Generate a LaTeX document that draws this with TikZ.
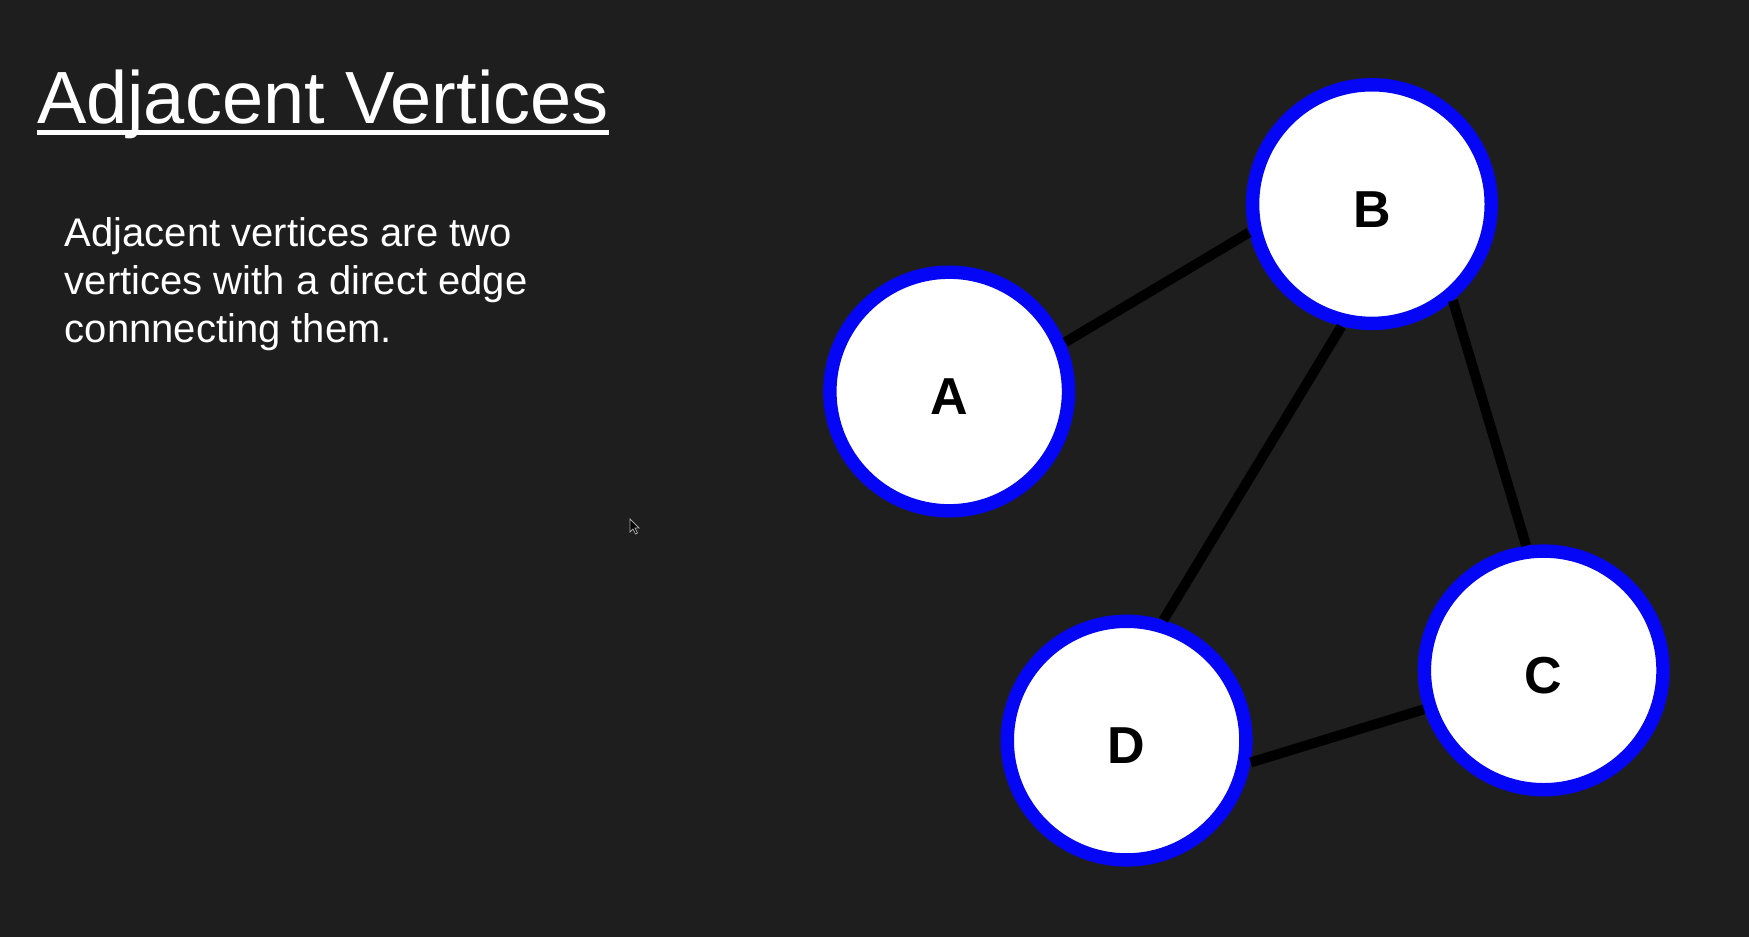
\documentclass[tikz,border=0pt]{standalone}
\usepackage{fontspec}
\setmainfont{Liberation Sans}
\usepackage{tikz}

\definecolor{bgcol}{RGB}{30,30,30}
\definecolor{ringblue}{RGB}{6,6,246}

\begin{document}
\begin{tikzpicture}[x=1pt,y=-1pt]
        \tikzstyle{vertex} = [circle, draw=ringblue, fill=white, line width=13.4pt, minimum size=238.6pt, inner sep=0pt, text height=46pt, text depth=0pt, font=\fontsize{52}{60}\selectfont\bfseries]
        \tikzstyle{edge} = [line width=10pt, black]
        \fill[bgcol] (0,0) rectangle (1749,937);

        \node[anchor=base west, inner sep=0pt, text=white, font=\fontsize{74}{88}\selectfont] (title) at (36.8,123.5) {Adjacent Vertices};
        \draw[white, line width=4.5pt] ([yshift=-9pt]title.base west) -- ([yshift=-9pt]title.base east);
        \node[anchor=base west, inner sep=0pt, text=white, align=left, font=\fontsize{40}{48}\selectfont] (def) at (64.7,342.5) {Adjacent vertices are two\\vertices with a direct edge\\connnecting them.};

        \node[vertex] (A) at (949.2,391.5) {A};
        \node[vertex] (B) at (1371.9,204.1) {B};
        \node[vertex] (C) at (1543.7,670.4) {C};
        \node[vertex] (D) at (1126.6,740.6) {D};

        \draw[edge] (A.23.9) -- (B.193.7);
        \draw[edge] (B.256.2) -- (D.73);
        \draw[edge] (B.310.3) -- (C.98.7);
        \draw[edge] (D.-10) -- (C.198.6);

        \draw[gray!70, line width=0.8pt, fill=black] (630,519) -- ++(0,13) -- ++(3,-3) -- ++(2.5,5) -- ++(2,-1) -- ++(-2.5,-5) -- ++(4,0) -- cycle;
\end{tikzpicture}
\end{document}
